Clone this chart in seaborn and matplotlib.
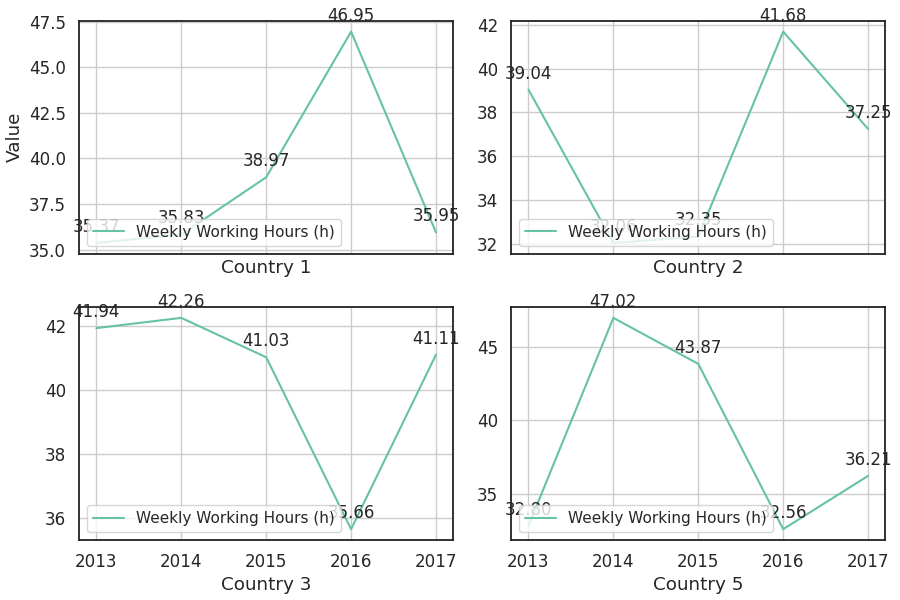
import matplotlib
matplotlib.use("Agg")
import matplotlib.pyplot as plt
import seaborn as sns
import pandas as pd

years = [2013, 2014, 2015, 2016, 2017]
countries = ["Country 1", "Country 2", "Country 3", "Country 5"]
hours = {
    "Country 1": [35.37, 35.83, 38.97, 46.95, 35.95],
    "Country 2": [39.04, 32.06, 32.35, 41.68, 37.25],
    "Country 3": [41.94, 42.26, 41.03, 35.66, 41.11],
    "Country 5": [32.80, 47.02, 43.87, 32.56, 36.21],
}

sns.set_theme(style="whitegrid", font_scale=1.1)
color = sns.color_palette("Set2")[0]

fig, axes = plt.subplots(2, 2, figsize=(9, 6), dpi=100, sharex=True)
for ax, c in zip(axes.flatten(), countries):
    df = pd.DataFrame({"Year": years, "Value": hours[c]})
    sns.lineplot(data=df, x="Year", y="Value", ax=ax, color=color,
                 label="Weekly Working Hours (h)")
    for x, y in zip(years, hours[c]):
        ax.annotate(f"{y:.2f}", (x, y), textcoords="offset points",
                    xytext=(0, 8), ha="center", fontsize=12)
    ax.set_xlabel(c)
    ax.xaxis.label.set_visible(True)
    ax.set_ylabel("Value" if c == "Country 1" else "")
    ax.set_xticks(years)
    ax.legend(loc="lower left", fontsize=11)
    for s in ax.spines.values():
        s.set_edgecolor("#222222")
        s.set_linewidth(1.3)

plt.tight_layout(pad=0.3, h_pad=0.8, w_pad=0.8)
plt.savefig("out.png")
